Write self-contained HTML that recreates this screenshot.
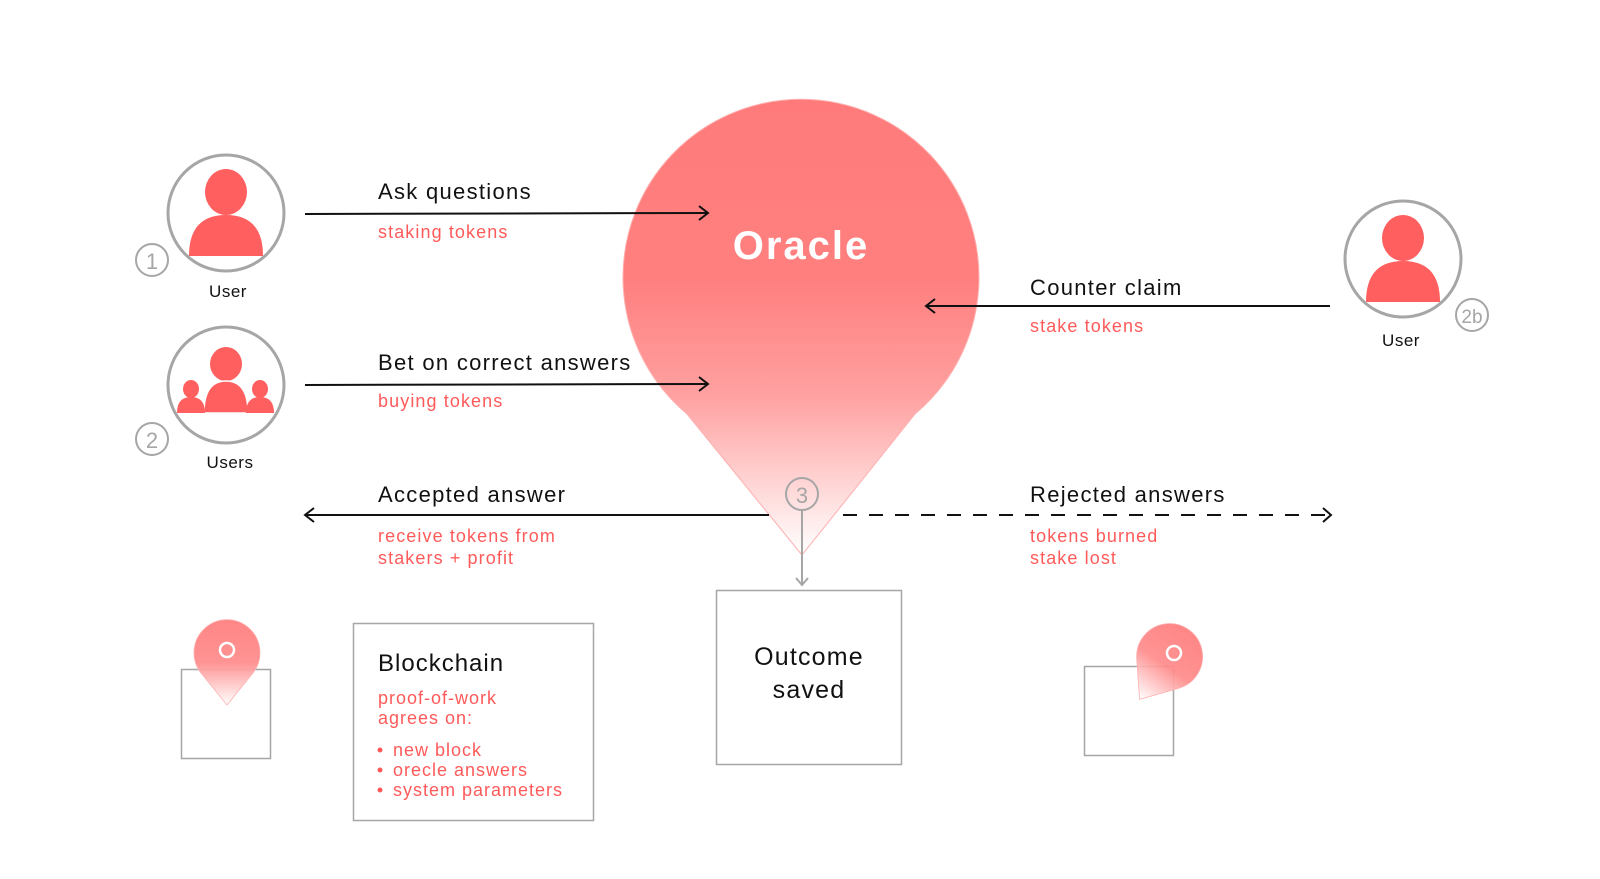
<!DOCTYPE html>
<html><head><meta charset="utf-8"><style>
html,body{margin:0;padding:0;background:#fff;}
svg{display:block;font-family:"Liberation Sans",sans-serif;}
</style></head><body>
<svg width="1600" height="879" viewBox="0 0 1600 879" xmlns="http://www.w3.org/2000/svg">
<defs>
<linearGradient id="og" x1="0" y1="97" x2="0" y2="555" gradientUnits="userSpaceOnUse">
<stop offset="0" stop-color="#ff7b7b"/>
<stop offset="0.4" stop-color="#ff7f7f"/>
<stop offset="0.65" stop-color="#ffa0a0"/>
<stop offset="0.85" stop-color="#ffd6d6"/>
<stop offset="1" stop-color="#ffffff"/>
</linearGradient>
<linearGradient id="sg" x1="0" y1="0" x2="0" y2="1">
<stop offset="0" stop-color="#ff7b7b"/>
<stop offset="0.5" stop-color="#ff8a8a"/>
<stop offset="1" stop-color="#ffffff"/>
</linearGradient>
<clipPath id="c1"><circle cx="226" cy="213" r="57"/></clipPath>
<clipPath id="c2"><circle cx="226" cy="385" r="57"/></clipPath>
<clipPath id="c3"><circle cx="1403" cy="259" r="57"/></clipPath>
</defs>

<!-- Oracle pin -->
<path d="M802 555 L687 414 A178 178 0 1 1 915 414 Z" fill="url(#og)" stroke="#ffb0b0" stroke-width="1"/>
<text x="801" y="259" font-size="40" font-weight="bold" fill="#fff" text-anchor="middle" letter-spacing="2">Oracle</text>

<!-- user 1 -->
<circle cx="226" cy="213" r="58" fill="#fff" stroke="#a6a6a6" stroke-width="3"/>
<g clip-path="url(#c1)" fill="#ff5f5f">
<ellipse cx="226" cy="192" rx="21" ry="23"/>
<path d="M189 256 Q189 215 226 215 Q263 215 263 256 Z"/>
</g>
<circle cx="152" cy="260" r="16" fill="#fff" stroke="#a6a6a6" stroke-width="2"/>
<text x="152" y="269" font-size="22" fill="#a6a6a6" text-anchor="middle">1</text>
<text x="228" y="297" font-size="17" fill="#111" text-anchor="middle" letter-spacing="0.5">User</text>

<!-- users 2 -->
<circle cx="226" cy="385" r="58" fill="#fff" stroke="#a6a6a6" stroke-width="3"/>
<g clip-path="url(#c2)" fill="#ff5f5f">
<ellipse cx="226" cy="364" rx="16" ry="17"/>
<path d="M204 413 Q204 381 226 381 Q248 381 248 413 Z" stroke="#fff" stroke-width="1.5"/>
<ellipse cx="191" cy="389" rx="8" ry="9"/>
<path d="M177 413 Q177 397 191 397 Q205 397 205 413 Z"/>
<ellipse cx="260" cy="389" rx="8" ry="9"/>
<path d="M246 413 Q246 397 260 397 Q274 397 274 413 Z"/>
</g>
<circle cx="152" cy="439" r="16" fill="#fff" stroke="#a6a6a6" stroke-width="2"/>
<text x="152" y="448" font-size="22" fill="#a6a6a6" text-anchor="middle">2</text>
<text x="230" y="468" font-size="17" fill="#111" text-anchor="middle" letter-spacing="0.5">Users</text>

<!-- user 2b -->
<circle cx="1403" cy="259" r="58" fill="#fff" stroke="#a6a6a6" stroke-width="3"/>
<g clip-path="url(#c3)" fill="#ff5f5f">
<ellipse cx="1403" cy="238" rx="21" ry="23"/>
<path d="M1366 302 Q1366 261 1403 261 Q1440 261 1440 302 Z"/>
</g>
<circle cx="1472" cy="315" r="16" fill="#fff" stroke="#a6a6a6" stroke-width="2"/>
<text x="1472" y="323" font-size="19" fill="#a6a6a6" text-anchor="middle">2b</text>
<text x="1401" y="346" font-size="17" fill="#111" text-anchor="middle" letter-spacing="0.5">User</text>

<!-- arrows -->
<g stroke="#111" stroke-width="2" fill="none">
<line x1="305" y1="214" x2="708" y2="213"/>
<polyline points="699,206 708,213 699,220"/>
<line x1="305" y1="385" x2="708" y2="384"/>
<polyline points="699,377 708,384 699,391"/>
<line x1="1330" y1="306" x2="926" y2="306"/>
<polyline points="935,299 926,306 935,313"/>
<line x1="769" y1="515" x2="305" y2="515"/>
<polyline points="314,508 305,515 314,522"/>
<line x1="843" y1="515" x2="1328" y2="515" stroke-dasharray="14 12"/>
<polyline points="1323,508 1331,515 1323,522"/>
</g>

<!-- badge 3 -->
<circle cx="802" cy="494" r="16" fill="none" stroke="#a6a6a6" stroke-width="2"/>
<text x="802" y="503" font-size="22" fill="#a6a6a6" text-anchor="middle">3</text>
<line x1="802" y1="510" x2="802" y2="585" stroke="#a6a6a6" stroke-width="2"/>
<polyline points="796,578 802,585 808,578" fill="none" stroke="#a6a6a6" stroke-width="2"/>

<!-- labels -->
<g font-size="22" fill="#111" letter-spacing="1.3">
<text x="378" y="199">Ask questions</text>
<text x="378" y="370">Bet on correct answers</text>
<text x="378" y="502">Accepted answer</text>
<text x="1030" y="295">Counter claim</text>
<text x="1030" y="502">Rejected answers</text>
</g>
<g font-size="18" fill="#ff5a5a" letter-spacing="1.1">
<text x="378" y="238">staking tokens</text>
<text x="378" y="407">buying tokens</text>
<text x="378" y="542">receive tokens from</text>
<text x="378" y="564">stakers + profit</text>
<text x="1030" y="332">stake tokens</text>
<text x="1030" y="542">tokens burned</text>
<text x="1030" y="564">stake lost</text>
</g>

<!-- outcome box -->
<rect x="716.5" y="590.5" width="185" height="174" fill="#fff" stroke="#a6a6a6" stroke-width="1.5"/>
<text x="809" y="665" font-size="25" fill="#111" text-anchor="middle" letter-spacing="1.2">Outcome</text>
<text x="809" y="698" font-size="25" fill="#111" text-anchor="middle" letter-spacing="1.2">saved</text>

<!-- blockchain box -->
<rect x="353.5" y="623.5" width="240" height="197" fill="#fff" stroke="#a6a6a6" stroke-width="1.5"/>
<text x="378" y="671" font-size="24" fill="#111" letter-spacing="1">Blockchain</text>
<g font-size="18" fill="#ff5a5a" letter-spacing="1">
<text x="378" y="704">proof-of-work</text>
<text x="378" y="724">agrees on:</text>
<text x="393" y="756">new block</text>
<text x="393" y="776">orecle answers</text>
<text x="393" y="796">system parameters</text>
<circle cx="380" cy="750" r="2.5"/>
<circle cx="380" cy="770" r="2.5"/>
<circle cx="380" cy="790" r="2.5"/>
</g>

<!-- left small box + pin -->
<rect x="181.5" y="669.5" width="89" height="89" fill="#fff" stroke="#a6a6a6" stroke-width="1.5"/>
<path d="M227 705 L201 673 A33 33 0 1 1 253 673 Z" fill="url(#sg)" fill-opacity="0.92" stroke="#ffb0b0" stroke-width="0.8"/>
<circle cx="227" cy="650" r="7" fill="none" stroke="#fff" stroke-width="2.5"/>

<!-- right small box + pin -->
<rect x="1084.5" y="666.5" width="89" height="89" fill="none" stroke="#a6a6a6" stroke-width="1.5"/>
<g transform="rotate(35 1170 656)">
<path d="M1170 709 L1144 677 A33 33 0 1 1 1196 677 Z" fill="url(#sg)" fill-opacity="0.92" stroke="#ffb0b0" stroke-width="0.8"/>
</g>
<circle cx="1174" cy="653" r="7" fill="none" stroke="#fff" stroke-width="2.5"/>
</svg>
</body></html>
